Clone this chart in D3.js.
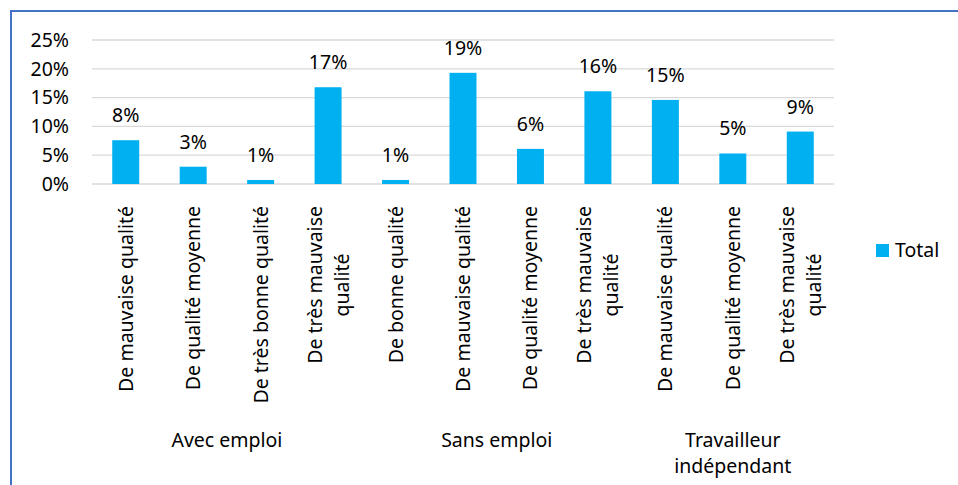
<!DOCTYPE html>
<html>
<head>
<meta charset="utf-8">
<script src="https://cdn.jsdelivr.net/npm/d3@7"></script>
<style>
  html, body { margin: 0; padding: 0; background: #fff; }
  svg { display: block; font-family: "Noto Sans", "Open Sans", sans-serif; }
</style>
</head>
<body>
<svg id="chart" width="958" height="485"></svg>
<script>
// Employment status groups and the quality categories under each
const groups = ["Avec emploi", "Sans emploi", "Travailleur indépendant"];
const groupSizes = [4, 4, 3];
const categories = [
  "De mauvaise qualité", "De qualité moyenne", "De très bonne qualité", "De très mauvaise qualité",
  "De bonne qualité", "De mauvaise qualité", "De qualité moyenne", "De très mauvaise qualité",
  "De mauvaise qualité", "De qualité moyenne", "De très mauvaise qualité"
];
const totals = [0.076, 0.030, 0.007, 0.168, 0.007, 0.193, 0.061, 0.161, 0.146, 0.053, 0.091];
const yTicks = [0, 0.05, 0.10, 0.15, 0.20, 0.25];
const seriesName = "Total";

const svg = d3.select("#chart");
const W = 958, H = 485;
const plot = { left: 92, right: 834, top: 40, bottom: 184 };
const barColor = "#00B0F0";
const fs = 19.5;

// frame
svg.append("rect")
  .attr("x", 11).attr("y", 11)
  .attr("width", W + 20).attr("height", H + 20)
  .attr("fill", "none").attr("stroke", "#4472C4").attr("stroke-width", 2);

const keys = categories.map((c, i) => i);
const x = d3.scaleBand().domain(keys).range([plot.left, plot.right]).paddingInner(0.6).paddingOuter(0.3);
const xb = d3.scaleBand().domain(keys).range([plot.left, plot.right]);
const y = d3.scaleLinear().domain([0, 0.25]).range([plot.bottom, plot.top]);

// gridlines
svg.append("g").selectAll("line").data(yTicks).join("line")
  .attr("x1", plot.left).attr("x2", plot.right)
  .attr("y1", d => y(d)).attr("y2", d => y(d))
  .attr("stroke", "#d9d9d9").attr("stroke-width", 1.3);

// y axis labels
const yAxis = d3.axisLeft(y).tickValues(yTicks).tickFormat(d3.format(".0%")).tickSize(0).tickPadding(0);
const gy = svg.append("g").attr("transform", `translate(${plot.left - 23},0)`).call(yAxis);
gy.select(".domain").remove();
gy.selectAll("text").attr("font-size", fs).attr("fill", "#000").attr("font-family", '"Noto Sans", sans-serif');

// bars
svg.append("g").selectAll("rect").data(totals).join("rect")
  .attr("x", (d, i) => x(i))
  .attr("width", x.bandwidth())
  .attr("y", d => y(d))
  .attr("height", d => y(0) - y(d))
  .attr("fill", barColor);

// value labels
svg.append("g").selectAll("text").data(totals).join("text")
  .attr("x", (d, i) => x(i) + x.bandwidth() / 2)
  .attr("y", d => y(d) - 18)
  .attr("text-anchor", "middle")
  .attr("font-size", fs)
  .attr("fill", "#000")
  .text(d => d3.format(".0%")(d));

// rotated category labels; long ones wrap onto two lines
function wrapLabel(s) {
  if (s === "De très mauvaise qualité") return ["De très mauvaise", "qualité"];
  return [s];
}
const catG = svg.append("g");
categories.forEach((c, i) => {
  const lines = wrapLabel(c);
  const cx = xb(i) + xb.bandwidth() / 2;
  const lh = 27;
  const t = catG.append("text")
    .attr("transform", `translate(${cx},206) rotate(-90)`)
    .attr("text-anchor", "middle")
    .attr("font-size", fs)
    .attr("fill", "#000");
  lines.forEach((ln, k) => {
    t.append("tspan")
      .attr("x", 0)
      .attr("y", (k - (lines.length - 1) / 2) * lh + 7)
      .text(ln);
  });
});
// right-align each block so its text ends just below the axis
catG.selectAll("text").each(function () {
  const t = d3.select(this);
  const tspans = t.selectAll("tspan").nodes();
  const maxW = d3.max(tspans, n => n.getComputedTextLength());
  t.selectAll("tspan").attr("x", -maxW / 2);
});

// group labels
let start = 0;
groups.forEach((g, gi) => {
  const n = groupSizes[gi];
  const x0 = xb(start), x1 = xb(start + n - 1) + xb.bandwidth();
  const words = g === "Travailleur indépendant" ? ["Travailleur", "indépendant"] : [g];
  words.forEach((w, k) => {
    svg.append("text")
      .attr("x", (x0 + x1) / 2)
      .attr("y", 447 + k * 26)
      .attr("text-anchor", "middle")
      .attr("font-size", fs)
      .attr("fill", "#000")
      .text(w);
  });
  start += n;
});

// legend
const lg = svg.append("g").attr("transform", "translate(876,244)");
lg.append("rect").attr("width", 13).attr("height", 13).attr("fill", barColor);
lg.append("text").attr("x", 19).attr("y", 13).attr("font-size", fs).attr("fill", "#000").text(seriesName);
</script>
</body>
</html>
